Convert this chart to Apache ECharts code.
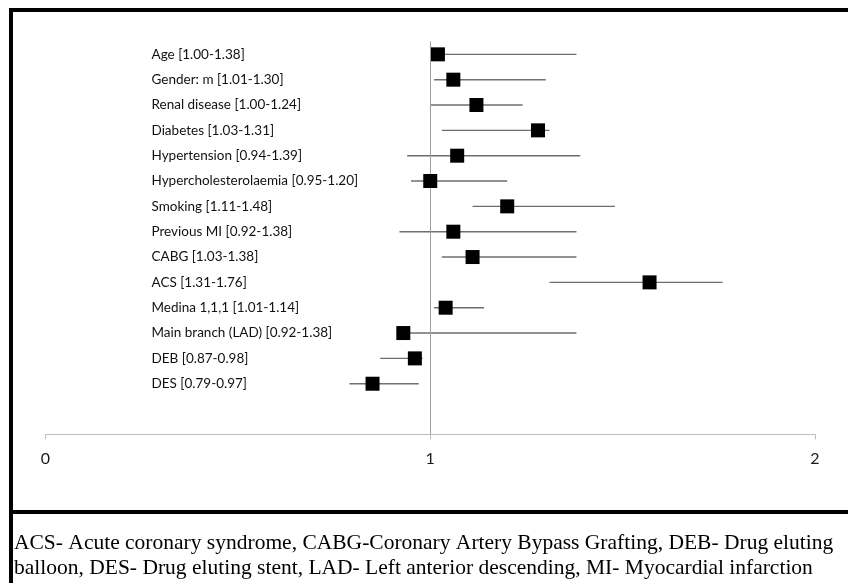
<!DOCTYPE html>
<html>
<head>
<meta charset="utf-8">
<script src="https://cdn.jsdelivr.net/npm/echarts@6/dist/echarts.min.js"></script>
<style>html,body{margin:0;padding:0;background:#fff;}#c{width:848px;height:583px;}</style>
</head>
<body>
<div id="c"></div>
<script>
const labels = [
  'Age [1.00-1.38]', 'Gender: m [1.01-1.30]', 'Renal disease [1.00-1.24]', 'Diabetes [1.03-1.31]',
  'Hypertension [0.94-1.39]', 'Hypercholesterolaemia [0.95-1.20]', 'Smoking [1.11-1.48]',
  'Previous MI [0.92-1.38]', 'CABG [1.03-1.38]', 'ACS [1.31-1.76]', 'Medina 1,1,1 [1.01-1.14]',
  'Main branch (LAD) [0.92-1.38]', 'DEB [0.87-0.98]', 'DES [0.79-0.97]'
];
const estimates = [1.02, 1.06, 1.12, 1.28, 1.07, 1.00, 1.20, 1.06, 1.11, 1.57, 1.04, 0.93, 0.96, 0.85];
const lower = [1.00, 1.01, 1.00, 1.03, 0.94, 0.95, 1.11, 0.92, 1.03, 1.31, 1.01, 0.92, 0.87, 0.79];
const upper = [1.38, 1.30, 1.24, 1.31, 1.39, 1.20, 1.48, 1.38, 1.38, 1.76, 1.14, 1.38, 0.98, 0.97];
const xTicks = [0, 1, 2];
const footnote1 = 'ACS- Acute coronary syndrome, CABG-Coronary Artery Bypass Grafting, DEB- Drug eluting';
const footnote2 = 'balloon, DES- Drug eluting stent, LAD- Left anterior descending, MI- Myocardial infarction';

const chart = echarts.init(document.getElementById('c'), null, {renderer: 'canvas'});
const ciData = lower.map((l, i) => [l, upper[i], i + 1]);
const ptData = estimates.map((e, i) => [e, i + 1]);

chart.setOption({
  animation: false,
  backgroundColor: '#fff',
  grid: {left: 45.5, right: 33, top: 29, bottom: 148.6, containLabel: false},
  xAxis: {
    type: 'value', position: 'bottom', min: xTicks[0], max: xTicks[xTicks.length - 1], interval: 1,
    axisLine: {show: true, onZero: false, lineStyle: {color: '#bdbdbd', width: 1}},
    axisTick: {show: true, length: 5, lineStyle: {color: '#bdbdbd'}},
    splitLine: {show: false},
    axisLabel: {fontSize: 16, color: '#1a1a1a', margin: 16, fontFamily: 'Lato'}
  },
  yAxis: {
    type: 'value', inverse: true, min: 0, max: 16, interval: 1,
    axisLine: {show: false}, axisTick: {show: false}, splitLine: {show: false},
    axisLabel: {
      inside: true, margin: 106, fontSize: 13.5, color: '#111', fontFamily: 'Lato',
      padding: [3, 0, 0, 0],
      formatter: v => labels[v - 1] || ''
    }
  },
  series: [
    {
      type: 'custom',
      data: ciData,
      encode: {x: [0, 1], y: 2},
      renderItem: function (params, api) {
        const a = api.coord([api.value(0), api.value(2)]);
        const b = api.coord([api.value(1), api.value(2)]);
        return {type: 'line', shape: {x1: a[0], y1: a[1], x2: b[0], y2: b[1]},
          style: {stroke: '#6e6e6e', lineWidth: 1.4}};
      },
      silent: true
    },
    {
      type: 'scatter',
      data: ptData,
      symbol: 'rect',
      symbolSize: 14,
      itemStyle: {color: '#000', opacity: 1},
      z: 5,
      markLine: {
        silent: true, symbol: 'none', label: {show: false},
        lineStyle: {color: '#9e9e9e', width: 1, type: 'solid', opacity: 1},
        data: [[{coord: [1, 0.5]}, {coord: [1, 16]}]]
      }
    }
  ],
  graphic: [
    {type: 'line', shape: {x1: 9, y1: 10, x2: 848, y2: 10}, style: {stroke: '#000', lineWidth: 4}},
    {type: 'line', shape: {x1: 11, y1: 8, x2: 11, y2: 583}, style: {stroke: '#000', lineWidth: 4}},
    {type: 'line', shape: {x1: 9, y1: 512, x2: 848, y2: 512}, style: {stroke: '#000', lineWidth: 4}},
    {type: 'text', left: 14, top: 532, style: {text: footnote1, font: '21.5px "Liberation Serif"', fill: '#000'}},
    {type: 'text', left: 14, top: 557, style: {text: footnote2, font: '21.5px "Liberation Serif"', fill: '#000'}}
  ]
});
</script>
</body>
</html>
